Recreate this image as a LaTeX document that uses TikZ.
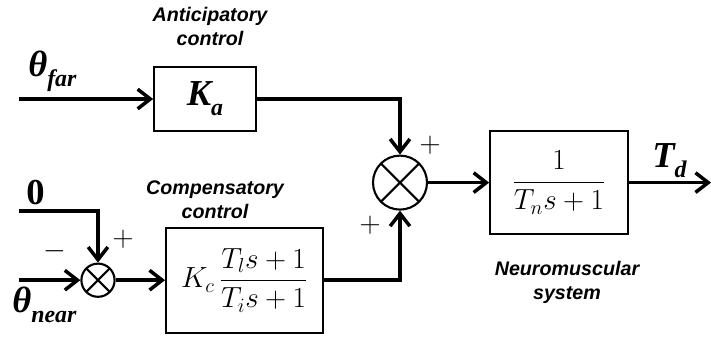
\documentclass[tikz,border=0pt]{standalone}
\usepackage{fontspec}
\setsansfont{Liberation Sans}
\newfontfamily\lserif{Liberation Serif}
\usepackage{amsmath}
\usetikzlibrary{arrows.meta}

\tikzset{
  sig/.style={line width=2.5pt},
  blockbox/.style={draw, line width=1.2pt, inner sep=0pt},
  sumnode/.style={circle, draw, line width=1.5pt, inner sep=0pt,
    path picture={\draw[line width=1.5pt] (path picture bounding box.north east) -- (path picture bounding box.south west)
      (path picture bounding box.north west) -- (path picture bounding box.south east);}},
  caption/.style={align=center, font=\sffamily\bfseries\itshape\fontsize{14}{17}\selectfont},
  mathlbl/.style={inner sep=0pt, font=\lserif\bfseries\itshape\fontsize{26}{28}\selectfont},
  fraclbl/.style={font=\fontsize{22}{25}\selectfont},
  sign/.style={font=\fontsize{22}{24}\selectfont}
}
\newcommand{\lowsub}[1]{\raisebox{-0.28em}{\fontsize{17}{17}\selectfont #1}}

\begin{document}
\begin{tikzpicture}[>={Straight Barb[length=9pt,width=14pt]}]
        \useasboundingbox (0,0) rectangle (17.775,8.425);

        % Bloecke
        \node[blockbox, minimum width=2.55cm, minimum height=1.6cm, mathlbl] (ka) at (5.125,5.95) {K\lowsub{a}};
        \node[blockbox, minimum width=3.925cm, minimum height=2.625cm, fraclbl] (kc) at (6.11,1.42) {$K_c\,\dfrac{T_l s+1}{T_i s+1}$};
        \node[blockbox, minimum width=3.45cm, minimum height=2.575cm, fraclbl] (tn) at (13.975,3.86) {$\dfrac{1}{T_n s+1}$};

        % Summierer
        \node[sumnode, minimum size=1.35cm] (sumb) at (10,3.86) {};
        \node[sumnode, minimum size=0.83cm] (sums) at (2.45,1.42) {};

        % Eingaenge und Ausgang
        \coordinate (farin) at (0.475,5.95);
        \coordinate (zeroin) at (0.475,3.15);
        \coordinate (nearin) at (0.475,1.42);
        \coordinate (tdout) at (17.775,3.86);

        \draw[sig, ->] (farin) -- (ka);
        \draw[sig, ->] (ka.east) -| (sumb.north);
        \draw[sig, ->] (zeroin) -| (sums.north);
        \draw[sig, ->] (nearin) -- (sums.west);
        \draw[sig, ->] (sums.east) -- (kc.west);
        \draw[sig, ->] (kc.east) -| (sumb.south);
        \draw[sig, ->] (sumb.east) -- (tn.west);
        \draw[sig, ->] (tn.east) -- (tdout);

        % Beschriftungen
        \node[mathlbl, anchor=west] (lblfar) at (0.7,6.65) {θ\lowsub{far}};
        \node[mathlbl, anchor=west] (lblzero) at (0.65,3.62) {\upshape 0};
        \node[mathlbl, anchor=west] (lblnear) at (0.3,0.8) {θ\lowsub{near}};
        \node[mathlbl, anchor=west] (lbltd) at (16.3,4.4) {T\lowsub{d}};
        \node[sign] (minsm) at (1.375,2.15) {$-$};
        \node[sign] (plssm) at (3.075,2.45) {$+$};
        \node[sign] (plstop) at (10.75,4.8) {$+$};
        \node[sign] (plsbot) at (9.25,2.8) {$+$};

        \node[caption] (capant) at (5.25,7.76) {Anticipatory\\control};
        \node[caption] (capcomp) at (5.375,3.43) {Compensatory\\control};
        \node[caption] (capneuro) at (14.175,1.37) {Neuromuscular\\system};
\end{tikzpicture}
\end{document}
